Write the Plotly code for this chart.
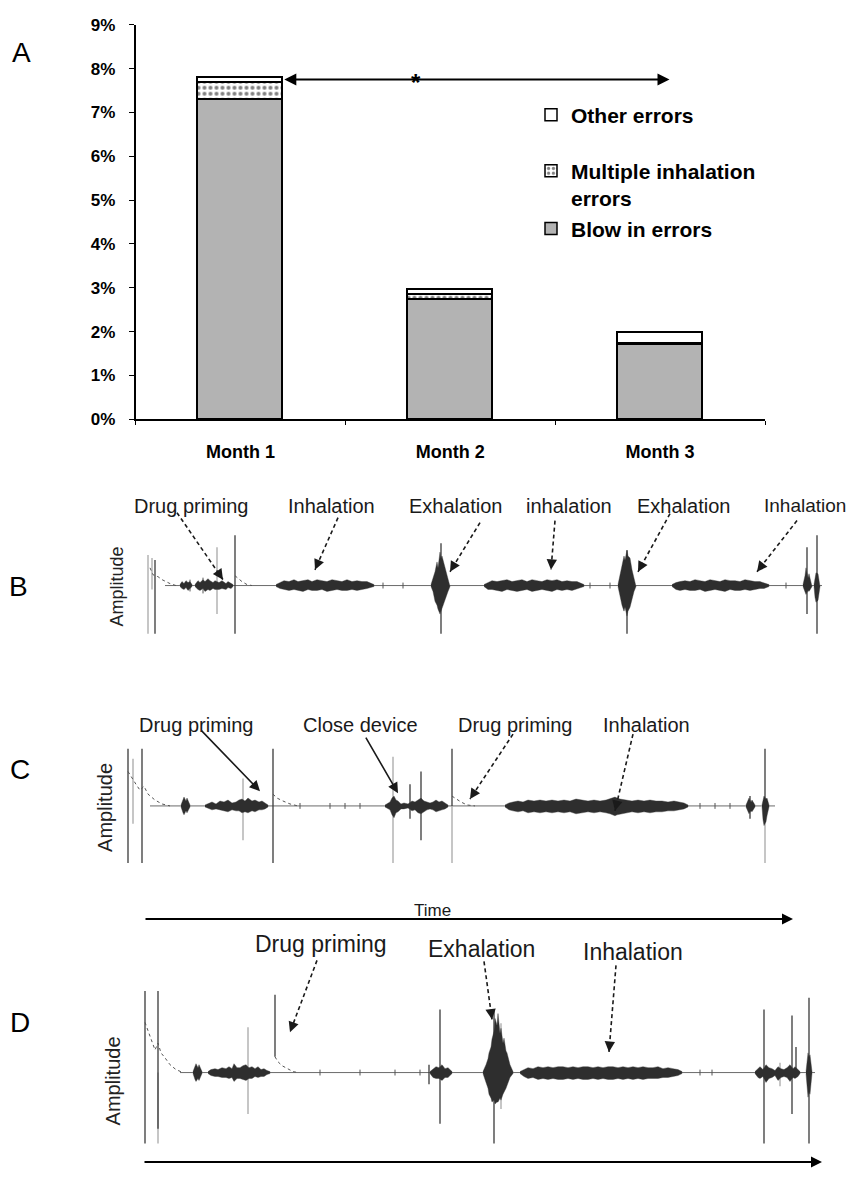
import plotly.graph_objects as go

W, H = 852, 1178


def px(x):
    return x / W


def py(y):
    return 1 - y / H


FONT = "Liberation Sans, Arial, sans-serif"

# ---------------- Panel A data ----------------
months = ["Month 1", "Month 2", "Month 3"]
blow_in = [7.30, 2.73, 1.70]
multiple_inh = [0.38, 0.12, 0.03]
other_err = [0.10, 0.11, 0.24]
pct_ticks = [0, 1, 2, 3, 4, 5, 6, 7, 8, 9]
pct_labels = ["0%", "1%", "2%", "3%", "4%", "5%", "6%", "7%", "8%", "9%"]

# ---------------- Panel B waveform (time units, amplitude a.u.) ----------------
B_line = [165, 822]
B_dark_t = [155, 235, 441, 627, 807, 817]
B_dark_top = [26, 51, 43, 36, 39, 51]
B_dark_bot = [-49, -49, -49, -49, -29, -49]
B_light_t = [148, 217, 152]
B_light_top = [31, 39, 28]
B_light_bot = [-49, -29, -4]
B_tick_t = [190, 203, 383, 403, 590, 610, 786]
B_tick_amp = [6, 8, 3, 3, 3, 3, 3]
B_decay_t = [[150, 153, 158, 162, 170, 176], [235, 238, 242, 247, 252]]
B_decay_a = [[18, 11, 9, 6, 2, 0], [10, 7, 4, 1, 0]]
B_burst_t = [
    [180, 182, 184, 186, 188, 190, 192],
    [195, 198, 200, 203, 205, 208, 210, 213, 215, 219, 222, 226, 228, 231, 233],
    [276, 280, 284, 289, 294, 298, 303, 308, 312, 317, 322, 327, 332, 337, 342, 347, 352, 357, 362, 367, 371, 374],
    [431, 433, 435, 437, 438, 440, 441, 442, 444, 446, 448, 450],
    [484, 488, 492, 497, 502, 507, 512, 517, 522, 527, 532, 537, 542, 547, 552, 557, 562, 567, 572, 577, 581, 584],
    [618, 620, 622, 624, 625, 627, 628, 630, 632, 634, 636],
    [672, 676, 680, 685, 690, 695, 700, 705, 710, 715, 720, 725, 730, 735, 740, 745, 750, 755, 760, 764, 769],
    [803, 805, 806, 808, 809, 812],
    [814, 815, 816, 818, 819, 820],
]
B_burst_up = [
    [1, 4, 2, 5, 3, 4, 1],
    [1, 5, 3, 6, 4, 7, 5, 3, 5, 3, 5, 2, 4, 2, 1],
    [1, 3, 5, 4, 6, 4, 5, 6, 4, 6, 5, 4, 6, 5, 4, 6, 4, 5, 4, 4, 2, 1],
    [1, 8, 14, 24, 18, 34, 28, 30, 22, 16, 8, 1],
    [1, 3, 5, 4, 5, 6, 4, 5, 6, 4, 6, 5, 4, 6, 5, 6, 4, 5, 4, 4, 2, 1],
    [1, 10, 22, 30, 26, 36, 30, 28, 16, 8, 1],
    [1, 3, 4, 5, 4, 6, 5, 4, 6, 5, 4, 6, 5, 5, 4, 6, 5, 4, 4, 3, 1],
    [1, 10, 18, 8, 12, 1],
    [1, 9, 13, 12, 6, 1],
]
B_burst_dn = [
    [1, 3, 4, 2, 5, 3, 1],
    [1, 4, 5, 3, 6, 4, 5, 3, 4, 4, 3, 4, 2, 3, 1],
    [1, 3, 4, 5, 4, 5, 6, 4, 5, 5, 4, 6, 5, 4, 5, 5, 4, 5, 4, 3, 2, 1],
    [1, 6, 16, 20, 24, 29, 26, 24, 18, 12, 6, 1],
    [1, 4, 4, 5, 6, 4, 5, 6, 5, 4, 6, 5, 4, 5, 6, 4, 5, 4, 5, 3, 2, 1],
    [1, 10, 20, 26, 22, 31, 26, 22, 14, 6, 1],
    [1, 4, 5, 4, 5, 5, 4, 6, 5, 4, 5, 6, 4, 5, 5, 4, 5, 4, 3, 3, 1],
    [1, 6, 9, 5, 6, 1],
    [1, 12, 17, 15, 8, 1],
]

# ---------------- Panel C waveform ----------------
C_line = [150, 775]
C_dark_t = [128, 142, 273, 421, 452, 765, 410, 750]
C_dark_top = [58, 58, 58, 35, 58, 58, 22, 10]
C_dark_bot = [-58, -58, -58, -35, 0, -5, -13, -13]
C_light_t = [133, 243, 393, 452, 765]
C_light_top = [48, 28, 50, 0, 0]
C_light_bot = [-18, -35, -58, -58, -58]
C_tick_t = [300, 330, 345, 360, 700, 715, 730]
C_tick_amp = [3, 3, 3, 3, 3, 3, 3]
C_decay_t = [[128, 132, 136, 140, 144, 148, 155, 162, 170],
             [273, 277, 283, 290, 298],
             [452, 456, 461, 467, 475]]
C_decay_a = [[35, 28, 22, 16, 20, 12, 6, 2, 0],
             [12, 8, 5, 2, 0],
             [10, 7, 4, 1, 0]]
C_burst_t = [
    [181, 183, 184, 186, 187, 190],
    [205, 209, 212, 216, 220, 224, 228, 232, 236, 239, 242, 245, 248, 252, 255, 259, 262, 265, 268],
    [385, 388, 390, 392, 394, 396, 398, 401, 404, 408, 412, 415, 418, 421, 424, 427, 430, 433, 436, 439, 442, 445, 448],
    [505, 509, 513, 518, 523, 528, 534, 540, 546, 552, 558, 564, 570, 576, 582, 588, 594, 600, 606, 610, 613, 615, 617,
     620, 626, 632, 638, 644, 650, 656, 662, 668, 674, 680, 684, 688],
    [746, 748, 749, 751, 752, 755],
    [762, 763, 764, 766, 767, 769],
]
C_burst_up = [
    [1, 6, 9, 5, 8, 1],
    [1, 3, 4, 2, 5, 4, 6, 3, 4, 6, 7, 5, 8, 5, 6, 4, 5, 3, 1],
    [1, 3, 4, 8, 10, 6, 5, 2, 3, 2, 5, 4, 6, 8, 5, 4, 3, 4, 6, 4, 5, 3, 1],
    [1, 3, 4, 5, 4, 6, 5, 6, 5, 6, 5, 6, 5, 7, 6, 5, 6, 5, 6, 7, 8, 9, 8,
     7, 6, 5, 6, 5, 6, 5, 5, 4, 5, 4, 3, 1],
    [1, 5, 8, 4, 6, 1],
    [1, 6, 10, 7, 8, 1],
]
C_burst_dn = [
    [1, 7, 9, 5, 7, 1],
    [1, 3, 4, 3, 4, 5, 6, 4, 5, 5, 7, 6, 7, 5, 6, 4, 4, 3, 1],
    [1, 3, 4, 9, 12, 7, 6, 3, 3, 2, 5, 4, 7, 8, 6, 4, 3, 4, 6, 5, 4, 3, 1],
    [1, 4, 5, 6, 5, 7, 6, 7, 6, 7, 6, 7, 6, 8, 7, 6, 7, 6, 7, 8, 9, 10, 9,
     8, 7, 6, 7, 6, 7, 6, 6, 5, 5, 4, 3, 1],
    [1, 6, 8, 5, 6, 1],
    [1, 14, 20, 16, 10, 1],
]

# ---------------- Panel D waveform ----------------
D_line = [180, 815]
D_dark_t = [145, 158, 275, 440, 494, 764, 792, 809, 429, 796]
D_dark_top = [83, 83, 79, 64, 63, 64, 58, 76, 8, 26]
D_dark_bot = [-72, -57, 16, -52, -72, -72, -42, -72, -12, 0]
D_light_t = [158, 248, 501, 780]
D_light_top = [0, 46, 50, 10]
D_light_bot = [-72, -42, -37, -14]
D_tick_t = [320, 360, 395, 420, 700, 712]
D_tick_amp = [3, 3, 3, 3, 3, 3]
D_decay_t = [[145, 148, 152, 155, 158, 161, 165, 170, 176, 183],
             [275, 278, 282, 287, 293, 298]]
D_decay_a = [[51, 43, 33, 23, 30, 20, 15, 8, 3, 0],
             [16, 11, 7, 4, 1, 0]]
D_burst_t = [
    [193, 195, 196, 198, 199, 202],
    [208, 211, 215, 218, 222, 226, 229, 232, 234, 237, 240, 243, 246, 249, 252, 255, 258, 261, 264, 267, 270],
    [430, 433, 436, 439, 442, 445, 448, 452],
    [483, 485, 486, 488, 489, 491, 492, 494, 495, 497, 498, 500, 501, 503, 504, 506, 507, 509, 510, 513],
    [520, 524, 528, 533, 538, 543, 548, 553, 558, 563, 568, 573, 578, 583, 588, 593, 598, 603, 608, 613, 618, 623,
     628, 633, 638, 643, 648, 653, 658, 663, 668, 673, 678, 682],
    [755, 758, 760, 763, 766, 769, 772, 775, 778, 781, 784, 787, 790, 793, 795, 798, 800],
    [806, 807, 808, 809, 810, 812],
]
D_burst_up = [
    [1, 6, 9, 5, 8, 1],
    [1, 3, 4, 3, 5, 4, 6, 4, 9, 5, 5, 7, 8, 5, 6, 4, 6, 3, 4, 2, 1],
    [1, 4, 6, 5, 8, 4, 5, 1],
    [1, 5, 8, 14, 20, 26, 34, 42, 55, 48, 60, 40, 45, 30, 35, 22, 20, 12, 8, 1],
    [1, 3, 5, 4, 6, 5, 6, 5, 6, 6, 5, 6, 5, 6, 6, 5, 6, 5, 6, 6, 5, 6, 5, 6,
     5, 6, 5, 5, 6, 4, 5, 4, 3, 1],
    [1, 4, 6, 3, 8, 5, 4, 2, 6, 4, 3, 5, 8, 4, 6, 3, 1],
    [1, 12, 20, 16, 18, 1],
]
D_burst_dn = [
    [1, 7, 9, 6, 8, 1],
    [1, 3, 4, 4, 5, 5, 6, 5, 9, 6, 6, 7, 8, 6, 6, 4, 5, 4, 4, 2, 1],
    [1, 5, 6, 6, 8, 5, 5, 1],
    [1, 6, 10, 16, 22, 26, 30, 28, 32, 30, 30, 26, 28, 22, 20, 16, 12, 8, 5, 1],
    [1, 4, 6, 5, 7, 6, 7, 6, 7, 7, 6, 7, 6, 7, 7, 6, 7, 6, 7, 7, 6, 7, 6, 7,
     6, 7, 6, 6, 6, 5, 5, 4, 3, 1],
    [1, 5, 6, 4, 10, 6, 5, 3, 8, 5, 4, 5, 9, 5, 6, 4, 1],
    [1, 15, 25, 20, 22, 1],
]

fig = go.Figure()

# ---------------- Panel A bars ----------------
bar_line = dict(color="black", width=1.5)
fig.add_trace(go.Bar(x=months, y=blow_in, name="Blow in errors", width=0.405,
                     marker=dict(color="#b3b3b3", line=bar_line),
                     legend="legend2", xaxis="x", yaxis="y"))
fig.add_trace(go.Bar(x=months, y=multiple_inh, name="Multiple inhalation<br>errors", width=0.405,
                     marker=dict(color="white", line=bar_line,
                                 pattern=dict(shape=".", fgcolor="black", bgcolor="white",
                                              size=6, solidity=0.35)),
                     legend="legend2", xaxis="x", yaxis="y"))
fig.add_trace(go.Bar(x=months, y=other_err, name="Other errors", width=0.405,
                     marker=dict(color="white", line=bar_line),
                     legend="legend", xaxis="x", yaxis="y"))


# ---------------- waveform helper ----------------
def add_wave(ax, line_span, dark, light, ticks, decays, bursts):
    xa, ya = "x" + ax, "y" + ax
    fig.add_trace(go.Scatter(x=line_span, y=[0, 0], mode="lines",
                             line=dict(color="#6a6a6a", width=1),
                             showlegend=False, hoverinfo="skip", xaxis=xa, yaxis=ya))
    for (ts, tops, bots), col in ((light, "#a8a8a8"), (dark, "#3a3a3a")):
        xs, ys = [], []
        for t, a, b in zip(ts, tops, bots):
            xs += [t, t, None]
            ys += [a, b, None]
        fig.add_trace(go.Scatter(x=xs, y=ys, mode="lines", line=dict(color=col, width=1.3),
                                 showlegend=False, hoverinfo="skip", xaxis=xa, yaxis=ya))
    xs, ys = [], []
    for t, a in zip(*ticks):
        xs += [t, t, None]
        ys += [a, -a, None]
    fig.add_trace(go.Scatter(x=xs, y=ys, mode="lines", line=dict(color="#555555", width=1),
                             showlegend=False, hoverinfo="skip", xaxis=xa, yaxis=ya))
    for dt, da in zip(*decays):
        fig.add_trace(go.Scatter(x=dt, y=da, mode="lines", line=dict(color="#555555", width=1, dash="dot"),
                                 showlegend=False, hoverinfo="skip", xaxis=xa, yaxis=ya))
    for bt, bu, bd in zip(*bursts):
        fig.add_trace(go.Scatter(x=bt + bt[::-1], y=bu + [-v for v in bd[::-1]],
                                 mode="lines", fill="toself", fillcolor="#2e2e2e",
                                 line=dict(color="#3a3a3a", width=0.4),
                                 showlegend=False, hoverinfo="skip", xaxis=xa, yaxis=ya))


add_wave("2", B_line, (B_dark_t, B_dark_top, B_dark_bot), (B_light_t, B_light_top, B_light_bot),
         (B_tick_t, B_tick_amp), (B_decay_t, B_decay_a), (B_burst_t, B_burst_up, B_burst_dn))
add_wave("3", C_line, (C_dark_t, C_dark_top, C_dark_bot), (C_light_t, C_light_top, C_light_bot),
         (C_tick_t, C_tick_amp), (C_decay_t, C_decay_a), (C_burst_t, C_burst_up, C_burst_dn))
add_wave("4", D_line, (D_dark_t, D_dark_top, D_dark_bot), (D_light_t, D_light_top, D_light_bot),
         (D_tick_t, D_tick_amp), (D_decay_t, D_decay_a), (D_burst_t, D_burst_up, D_burst_dn))

# ---------------- layout ----------------
tickfont = dict(family=FONT, size=17, color="black", weight="bold")
xtickfont = dict(family=FONT, size=18, color="black", weight="bold")


def wave_axes(top_px, bottom_px, base_px):
    return (dict(domain=[0, 1], range=[0, W], visible=False, fixedrange=True),
            dict(domain=[py(bottom_px), py(top_px)], range=[base_px - bottom_px, base_px - top_px],
                 visible=False, fixedrange=True))


x2, y2 = wave_axes(520, 650, 586)
x3, y3 = wave_axes(740, 880, 810)
x4, y4 = wave_axes(985, 1160, 1081)
x2["anchor"], y2["anchor"] = "y2", "x2"
x3["anchor"], y3["anchor"] = "y3", "x3"
x4["anchor"], y4["anchor"] = "y4", "x4"

legend_font = dict(family=FONT, size=21, color="black", weight="bold")

fig.update_layout(
    width=W, height=H, autosize=False,
    margin=dict(l=0, r=0, t=0, b=0),
    paper_bgcolor="white", plot_bgcolor="white",
    barmode="stack", bargap=0,
    font=dict(family=FONT, color="black"),
    xaxis=dict(domain=[px(135.5), px(765)], anchor="y", type="category",
               showline=True, linecolor="black", linewidth=1.5,
               ticks="outside", tickson="boundaries", ticklen=4, tickcolor="black",
               tickfont=xtickfont, ticklabelstandoff=15, showgrid=False, fixedrange=True),
    yaxis=dict(domain=[py(417), py(16)], anchor="x", range=[0, 9],
               tickvals=pct_ticks, ticktext=pct_labels,
               showline=True, linecolor="black", linewidth=1.5,
               ticks="outside", ticklen=5, tickcolor="black",
               tickfont=tickfont, ticklabelstandoff=10, showgrid=False, zeroline=False,
               fixedrange=True),
    xaxis2=x2, yaxis2=y2, xaxis3=x3, yaxis3=y3, xaxis4=x4, yaxis4=y4,
    legend=dict(x=px(531), y=py(87), xanchor="left", yanchor="top",
                font=legend_font, bgcolor="rgba(0,0,0,0)", valign="top"),
    legend2=dict(x=px(531), y=py(144), xanchor="left", yanchor="top",
                 font=legend_font, bgcolor="rgba(0,0,0,0)", valign="top",
                 traceorder="reversed", tracegroupgap=0),
    showlegend=True,
)

ann = []

# significance arrow on panel A
ann.append(dict(x=2.045, y=7.75, xref="x", yref="y", ax=0.202, ay=7.75, axref="x", ayref="y",
                showarrow=True, arrowside="end+start", arrowhead=2, startarrowhead=2,
                arrowsize=1.2, startarrowsize=1.2, arrowwidth=2, arrowcolor="black", text=""))
ann.append(dict(x=0.836, y=7.75, xref="x", yref="y", text="*", showarrow=False, yshift=-3,
                font=dict(family=FONT, size=24, color="black", weight="bold")))

# panel letters
for letter, lx, ly in (("A", 21, 44), ("B", 18, 587), ("C", 20, 773), ("D", 20, 1030)):
    ann.append(dict(x=px(lx), y=py(ly), xref="paper", yref="paper", text=letter, showarrow=False,
                    xanchor="center", yanchor="middle", font=dict(family=FONT, size=28, color="black")))

# amplitude axis titles
for lx, ly, sz in ((117, 587, 18), (105, 812, 20), (113, 1090, 20)):
    ann.append(dict(x=px(lx), y=py(ly), xref="paper", yref="paper", text="Amplitude", showarrow=False,
                    textangle=-90, xanchor="center", yanchor="middle",
                    font=dict(family=FONT, size=sz, color="#222222")))

# event labels
labels = [
    ("Drug priming", 191, 505, 20), ("Inhalation", 331, 505, 20), ("Exhalation", 455, 505, 20),
    ("inhalation", 569, 505, 20), ("Exhalation", 683, 505, 20), ("Inhalation", 805, 505, 19),
    ("Drug priming", 196, 728, 20), ("Close device", 360, 728, 20),
    ("Drug priming", 515, 728, 20), ("Inhalation", 646, 728, 20),
    ("Drug priming", 321, 950, 23), ("Exhalation", 481, 955, 23), ("Inhalation", 633, 958, 23),
    ("Time", 432, 916, 17),
]
for txt, lx, ly, sz in labels:
    ann.append(dict(x=px(lx), y=py(ly), xref="paper", yref="paper", text=txt, showarrow=False,
                    xanchor="center", yanchor="middle", font=dict(family=FONT, size=sz, color="#1a1a1a")))

# pointer arrows: (tail_x, tail_y, head_x, head_y, dashed)
pointers = [
    (177, 512, 223, 580, True), (338, 517, 315, 570, True), (480, 522, 450, 572, True),
    (555, 520, 551, 570, True), (670, 513, 638, 572, True), (797, 520, 757, 572, True),
    (200, 733, 260, 795, False), (365, 740, 398, 797, False),
    (513, 737, 470, 803, True), (633, 737, 615, 815, True),
    (317, 967, 290, 1040, True), (484, 968, 492, 1027, True), (616, 972, 609, 1060, True),
]
shapes = []
for tx, ty, hx, hy, dashed in pointers:
    if dashed:
        shapes.append(dict(type="line", xref="paper", yref="paper", x0=px(tx), y0=py(ty),
                           x1=px(hx), y1=py(hy), line=dict(color="#1a1a1a", width=1.6, dash="4px,3px")))
        dx, dy = tx - hx, ty - hy
        n = (dx * dx + dy * dy) ** 0.5
        ann.append(dict(x=px(hx), y=py(hy), xref="paper", yref="paper", ax=dx / n * 9, ay=dy / n * 9,
                        showarrow=True, arrowhead=2, arrowsize=1.3, arrowwidth=1.6,
                        arrowcolor="#1a1a1a", text=""))
    else:
        ann.append(dict(x=px(hx), y=py(hy), xref="paper", yref="paper", ax=tx - hx, ay=ty - hy,
                        showarrow=True, arrowhead=2, arrowsize=1.3, arrowwidth=1.6,
                        arrowcolor="#1a1a1a", text=""))

# time arrows
for x0, x1, yy in ((144, 793, 925), (143, 822, 1172)):
    ann.append(dict(x=px(x1), y=py(yy), xref="paper", yref="paper", ax=x0 - x1, ay=0,
                    showarrow=True, arrowhead=2, arrowsize=1.1, arrowwidth=2,
                    arrowcolor="black", text=""))

fig.update_layout(annotations=ann, shapes=shapes)

fig.write_html("out.html", config={"displayModeBar": False},
               post_script="document.body.style.margin='0';document.body.style.overflow='hidden';")
